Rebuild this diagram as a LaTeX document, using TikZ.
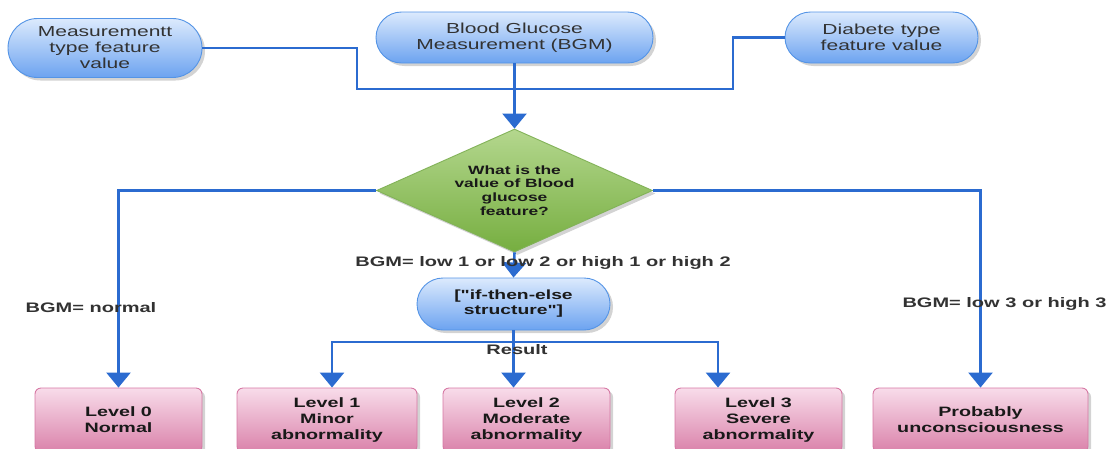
\documentclass[tikz,border=0pt]{standalone}
\usepackage{fontspec}
\setmainfont{Liberation Sans}[FakeStretch=1.45,Ligatures=TeXOff]
\usetikzlibrary{arrows.meta,shapes.geometric,shapes.misc,shadows}
\definecolor{linec}{RGB}{43,107,208}
\definecolor{bluetop}{RGB}{220,234,253}
\definecolor{bluebot}{RGB}{108,163,240}
\definecolor{blueedge}{RGB}{84,148,230}
\definecolor{greentop}{RGB}{180,215,142}
\definecolor{greenbot}{RGB}{118,174,64}
\definecolor{greenedge}{RGB}{130,178,88}
\definecolor{pinktop}{RGB}{248,220,234}
\definecolor{pinkbot}{RGB}{218,130,170}
\definecolor{pinkedge}{RGB}{214,120,164}
\definecolor{txtgray}{RGB}{50,50,50}
\definecolor{txtdark}{RGB}{25,25,25}
\begin{document}
\begin{tikzpicture}[x=1pt,y=-1pt,
  shad/.style={drop shadow={shadow xshift=3pt,shadow yshift=-3pt,opacity=0.35,fill=gray}},
  stad/.style={rounded rectangle, draw=blueedge, line width=0.9pt, top color=bluetop, bottom color=bluebot,
    inner sep=0pt, align=center, shad, text=txtgray, font=\fontsize{14.5}{16}\selectfont},
  dec/.style={diamond, draw=greenedge, line width=0.9pt, top color=greentop, bottom color=greenbot,
    inner sep=0pt, aspect=2.24, minimum width=276pt, minimum height=123pt, align=center, shad,
    text=txtdark, font=\fontsize{12}{13.8}\selectfont\bfseries},
  lvl/.style={rectangle, rounded corners=6pt, draw=pinkedge, line width=0.9pt, top color=pinktop, bottom color=pinkbot,
    inner sep=0pt, minimum height=64pt, align=center, shad, text=txtdark,
    font=\fontsize{13.6}{16}\selectfont\bfseries},
  lab/.style={text=txtgray, inner sep=0pt, font=\fontsize{13.8}{16}\selectfont\bfseries},
  ln/.style={draw=linec, line width=2.6pt},
  arr/.style={ln, -{Triangle[width=24pt,length=15pt]}}
]
\useasboundingbox (0,0) rectangle (1111,448);
\clip (0,0) rectangle (1111,448);

% top inputs
\node[stad, minimum width=194pt, minimum height=59pt] (meas) at (105,48) {Measurementt\\type feature\\value};
\node[stad, minimum width=277pt, minimum height=51pt] (bgm) at (514.5,37.5) {Blood Glucose\\Measurement (BGM)};
\node[stad, minimum width=193pt, minimum height=51pt] (diab) at (881.5,37.5) {Diabete type\\feature value};

% decision
\node[dec] (dia) at (514.5,190.5) {What is the\\value of Blood\\glucose\\feature?};

% if-then-else
\node[stad, minimum width=193pt, minimum height=52pt, text=txtdark, font=\fontsize{13.3}{15}\selectfont\bfseries] (ite) at (513.5,304) {["if-then-else\\structure"]};

% outcome boxes
\node[lvl, minimum width=167pt] (l0) at (118.5,420) {Level 0\\Normal};
\node[lvl, minimum width=180pt] (l1) at (327,420) {Level 1\\Minor\\abnormality};
\node[lvl, minimum width=167pt] (l2) at (526.5,420) {Level 2\\Moderate\\abnormality};
\node[lvl, minimum width=167pt] (l3) at (758.5,420) {Level 3\\Severe\\abnormality};
\node[lvl, minimum width=215pt] (pu) at (980.5,420) {Probably\\unconsciousness};

% junction coordinates
\coordinate (jl) at (357,89);
\coordinate (jr) at (733,89);
\coordinate (j) at (514.5,89);
\coordinate (br) at (515,342);

% connectors
\draw[ln] (meas.east) -| (jl) -- (j);
\draw[ln] (diab.west) -| (jr) -- (j);
\draw[arr] (bgm.south) -- (dia.north);
\draw[arr] (dia.west) -| (l0.north);
\draw[arr] (dia.east) -| (pu.north);
\draw[arr] (dia.south) -- (ite.north);
\draw[arr] (ite.south) -- (ite.south |- l2.north);
\draw[arr] (br) -| ([xshift=5pt]l1.north);
\draw[arr] (br) -| ([xshift=-40.5pt]l3.north);

% labels
\node[lab] (lnorm) at (91,308) {BGM= normal};
\node[lab] (lmid) at (543,263) {BGM= low 1 or low 2 or high 1 or high 2};
\node[lab] (lhigh) at (1004.5,304) {BGM= low 3 or high 3};
\node[lab] (res) at (517,350) {Result};
\end{tikzpicture}
\end{document}
